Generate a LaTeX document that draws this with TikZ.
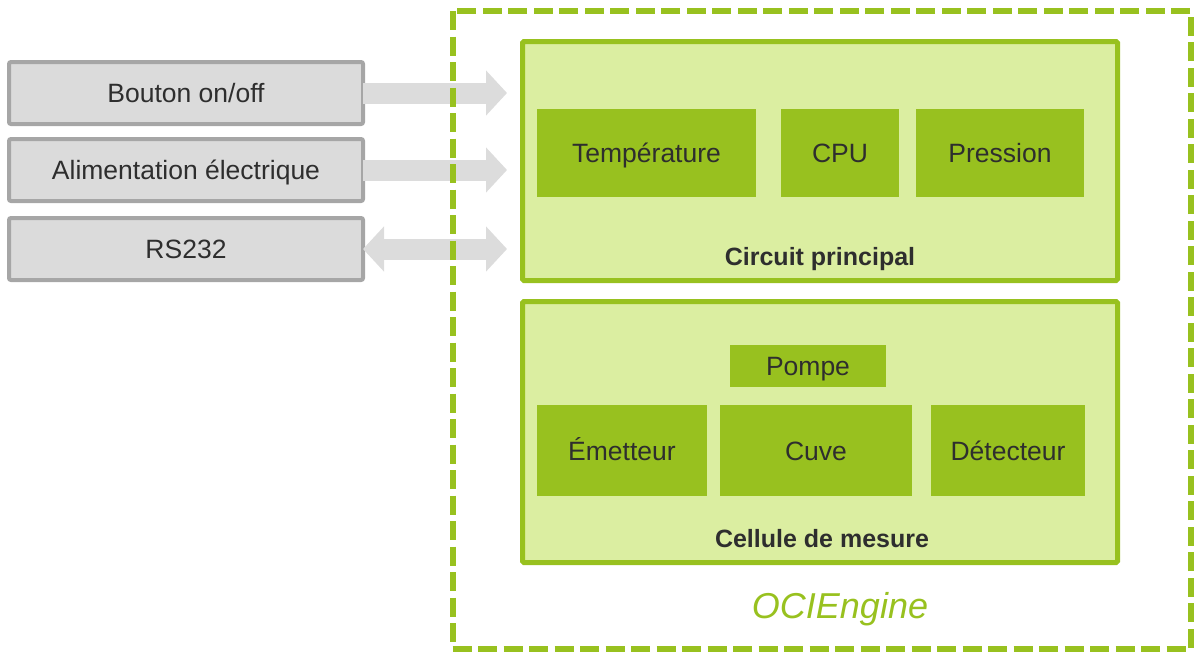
\documentclass[tikz,border=0pt]{standalone}
\usepackage{fontspec}
\setmainfont{Liberation Sans}
\usetikzlibrary{arrows.meta}

\definecolor{leaf}{HTML}{98C11F}
\definecolor{leaflight}{HTML}{DBEEA1}
\definecolor{panelgray}{HTML}{DBDBDB}
\definecolor{panelline}{HTML}{A6A6A6}
\definecolor{arrowgray}{HTML}{DCDCDC}
\definecolor{ink}{HTML}{2E2E2E}

\tikzset{
  lbl/.style={font=\fontsize{26.5}{30}\selectfont, text=ink,
    text height=19pt, text depth=0pt},
  graybox/.style={lbl, draw=panelline, fill=panelgray, line width=4pt,
    rounded corners=2pt, minimum width=354pt, minimum height=62pt,
    inner sep=0pt, outer sep=0pt},
  container/.style={draw=leaf, fill=leaflight, line width=5pt,
    rounded corners=1.5pt, minimum width=595pt, inner sep=0pt, outer sep=0pt},
  module/.style={lbl, fill=leaf, inner sep=0pt, outer sep=0pt},
  boldlbl/.style={font=\fontsize{25}{28}\selectfont\bfseries, text=ink,
    text height=18pt, text depth=0pt},
  flowarrow/.style={draw=arrowgray, line width=21pt,
    -{Triangle[length=21pt 0 0, width=44pt 0 0]}},
  twoway/.style={draw=arrowgray, line width=21pt,
    {Triangle[length=21pt 0 0, width=44pt 0 0]}-{Triangle[length=21pt 0 0, width=44pt 0 0]}},
  enginebox/.style={draw=leaf, line width=6pt, dash pattern=on 19pt off 6.5pt}
}

\begin{document}
\begin{tikzpicture}[x=1pt, y=-1pt]
  \useasboundingbox (0,0) rectangle (1194,651);

  % external inputs
  \node[graybox] (btn) at (186,93)  {Bouton on/off};
  \node[graybox] (pwr) at (186,170) {Alimentation électrique};
  \node[graybox] (rs)  at (186,249) {RS232};

  % main board
  \node[container, minimum height=239pt] (board) at (820,161) {};
  \node[module, minimum width=219pt, minimum height=88pt] (temp) at (646.5,153) {Température};
  \node[module, minimum width=118pt, minimum height=88pt] (cpu)  at (840,153)   {CPU};
  \node[module, minimum width=168pt, minimum height=88pt] (pres) at (1000,153)  {Pression};
  \node[boldlbl] (boardlbl) at (820,256) {Circuit principal};

  % measuring cell
  \node[container, minimum height=261pt] (cell) at (820,432) {};
  \node[module, minimum width=156pt, minimum height=42pt] (pump) at (808,366)   {Pompe};
  \node[module, minimum width=170pt, minimum height=91pt] (emit) at (622,450.5) {Émetteur};
  \node[module, minimum width=192pt, minimum height=91pt] (tank) at (816,450.5) {Cuve};
  \node[module, minimum width=154pt, minimum height=91pt] (det)  at (1008,450.5){Détecteur};
  \node[boldlbl] (celllbl) at (822,538) {Cellule de mesure};

  % arrows towards the engine
  \coordinate (tip) at (507,0);
  \draw[flowarrow] (btn.east) -- (btn.east -| tip);
  \draw[flowarrow] (pwr.east) -- (pwr.east -| tip);
  \draw[twoway]    (rs.east)  -- (rs.east -| tip);

  % engine outline and name
  \coordinate (engNW) at (452.5,11);
  \coordinate (engSE) at (1191,648.5);
  \draw[enginebox] (engNW) rectangle (engSE);
  \node[font=\fontsize{36}{40}\selectfont\itshape, text=leaf,
        text height=26pt, text depth=0pt] (engine) at (840,605) {OCIEngine};
\end{tikzpicture}
\end{document}
